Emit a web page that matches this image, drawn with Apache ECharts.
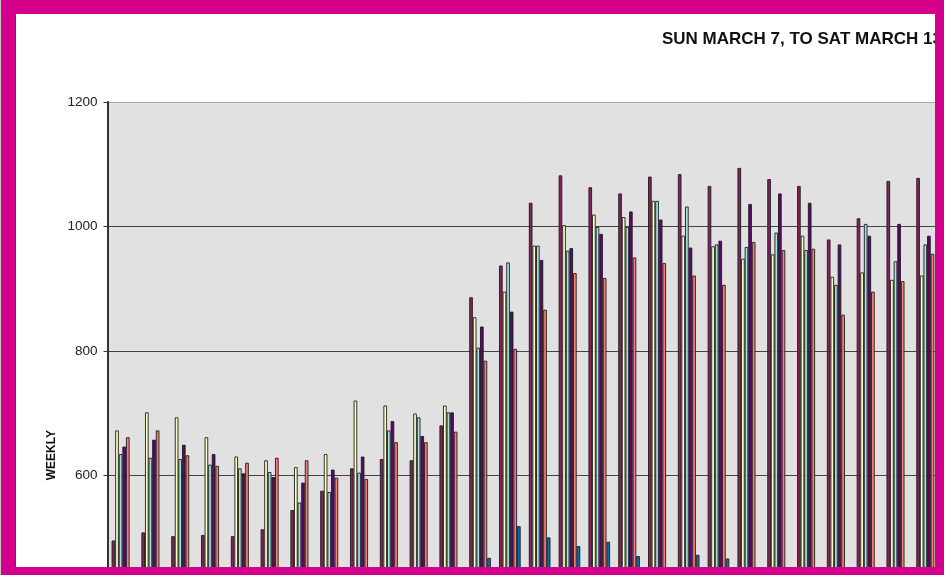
<!DOCTYPE html>
<html>
<head>
<meta charset="utf-8">
<script src="https://cdn.jsdelivr.net/npm/echarts@6/dist/echarts.min.js"></script>
<style>
  html, body { margin: 0; padding: 0; overflow: hidden; background: #fff; }
  #chart { width: 950px; height: 640px; }
</style>
</head>
<body>
<div id="chart"></div>
<script>
// weekly counts, 28 slots visible (rest of the sheet is cut off by the frame)
const slots = Array.from({ length: 28 }, (_, i) => String(i + 1));

const maroon = [495, 508, 502, 504, 502, 513, 544, 575, 611, 626, 624, 680, 886, 937, 1038, 1082, 1063, 1053, 1080, 1084, 1065, 1094, 1076, 1065, 979, 1013, 1073, 1078];
const yellow = [672, 701, 693, 661, 630, 624, 613, 634, 720, 712, 699, 712, 854, 895, 969, 1002, 1019, 1015, 1041, 985, 968, 948, 955, 985, 919, 926, 914, 921];
const cyan   = [634, 628, 626, 617, 611, 605, 556, 573, 604, 672, 693, 701, 805, 942, 969, 961, 999, 999, 1041, 1032, 971, 967, 990, 962, 906, 1004, 944, 971];
const purple = [646, 657, 649, 634, 603, 597, 588, 609, 630, 687, 663, 701, 839, 863, 946, 965, 988, 1024, 1011, 966, 977, 1036, 1053, 1038, 971, 985, 1004, 985];
const salmon = [661, 672, 632, 615, 620, 628, 624, 596, 594, 653, 653, 670, 784, 803, 866, 925, 917, 950, 941, 921, 906, 975, 962, 964, 858, 895, 912, 956];
const blue   = [null, null, null, null, null, null, null, null, null, null, null, null, 467, 518, 500, 486, 493, 470, null, 472, 466, null, null, null, null, null, null, null];

const yTicks = [400, 600, 800, 1000, 1200];

const seriesDefs = [
  { name: 'S1', data: maroon, color: '#86215f' },
  { name: 'S2', data: yellow, color: '#ffffc4' },
  { name: 'S3', data: cyan,   color: '#a8e2de' },
  { name: 'S4', data: purple, color: '#5e066e' },
  { name: 'S5', data: salmon, color: '#ff7c76' },
  { name: 'S6', data: blue,   color: '#0b6fb4' },
];

const MAGENTA = '#d4008c';

const chart = echarts.init(document.getElementById('chart'));
chart.setOption({
  animation: false,
  backgroundColor: '#ffffff',
  title: {
    text: 'SUN MARCH 7, TO SAT MARCH 13',
    left: 657,
    top: 26,
    textStyle: { fontFamily: 'Liberation Sans', fontSize: 17, fontWeight: 'bold', color: '#111' },
  },
  grid: {
    left: 107.5, right: 8, top: 102, bottom: 40.4,
    show: true, backgroundColor: '#e1e1e1', borderWidth: 0,
  },
  xAxis: {
    type: 'category',
    data: slots,
    axisLine: { show: false },
    axisTick: { show: false },
    axisLabel: { show: false },
  },
  yAxis: {
    type: 'value',
    min: yTicks[0],
    max: yTicks[yTicks.length - 1],
    interval: 200,
    axisLine: { show: true, lineStyle: { color: '#333', width: 2 } },
    axisTick: { show: true, length: 4, lineStyle: { color: '#333' } },
    axisLabel: { margin: 10, fontFamily: 'Liberation Sans', fontSize: 13.5, color: '#222', formatter: v => String(v) },
    splitLine: { show: true, lineStyle: { color: ['#444', '#444', '#444', '#444', '#a8a8a8'], width: 1 } },
  },
  series: seriesDefs.map(s => ({
    name: s.name,
    type: 'bar',
    data: s.data,
    barWidth: 3.6,
    barGap: '0%',
    itemStyle: { color: s.color, borderColor: '#1c1c1c', borderWidth: 0.9 },
  })),
  graphic: [
    {
      type: 'text', left: 46, top: 430, rotation: Math.PI / 2, z: 50,
      style: { text: 'WEEKLY', fontFamily: 'Liberation Sans', fontSize: 12, fontWeight: 'bold', fill: '#111' },
    },
    // magenta frame round the pasted sheet
    { type: 'rect', z: 100, shape: { x: 0, y: 0, width: 945, height: 14 }, style: { fill: MAGENTA } },
    { type: 'rect', z: 100, shape: { x: 1, y: 0, width: 14, height: 575 }, style: { fill: MAGENTA } },
    { type: 'rect', z: 100, shape: { x: 0, y: 567, width: 945, height: 10 }, style: { fill: MAGENTA } },
    { type: 'rect', z: 100, shape: { x: 935, y: 0, width: 9, height: 575 }, style: { fill: MAGENTA } },
    { type: 'rect', z: 100, shape: { x: 944, y: 0, width: 6, height: 575 }, style: { fill: '#ffffff' } },
    { type: 'rect', z: 100, shape: { x: 0, y: 0, width: 1, height: 575 }, style: { fill: '#c8c8c8' } },
    { type: 'rect', z: 100, shape: { x: 15, y: 14, width: 1, height: 553 }, style: { fill: '#444' } },
  ],
});
</script>
</body>
</html>
